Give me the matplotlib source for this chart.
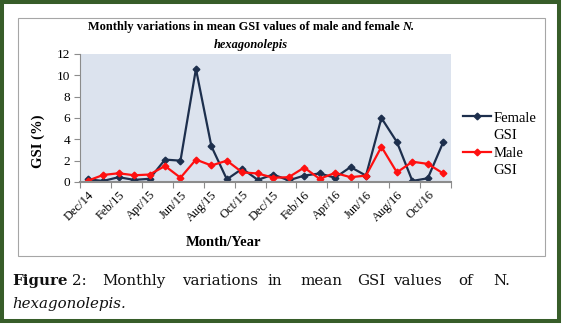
import matplotlib
matplotlib.use("Agg")
import matplotlib.pyplot as plt
from matplotlib.patches import Rectangle
from matplotlib.lines import Line2D

# -------------------- data --------------------
months = ["Dec/14", "Jan/15", "Feb/15", "Mar/15", "Apr/15", "May/15", "Jun/15",
          "Jul/15", "Aug/15", "Sep/15", "Oct/15", "Nov/15", "Dec/15", "Jan/16",
          "Feb/16", "Mar/16", "Apr/16", "May/16", "Jun/16", "Jul/16", "Aug/16",
          "Sep/16", "Oct/16", "Nov/16"]
female_gsi = [0.25, 0.1, 0.45, 0.2, 0.3, 2.1, 2.0, 10.6, 3.35, 0.25, 1.25, 0.2,
              0.7, 0.15, 0.6, 0.8, 0.4, 1.4, 0.6, 6.0, 3.75, 0.1, 0.35, 3.75]
male_gsi = [0.12, 0.66, 0.82, 0.63, 0.7, 1.5, 0.4, 2.1, 1.55, 2.0, 0.9, 0.8,
            0.4, 0.45, 1.35, 0.3, 0.85, 0.45, 0.6, 3.3, 0.9, 1.9, 1.7, 0.8]
y_ticks = [0, 2, 4, 6, 8, 10, 12]

W, H = 567, 330
SERIF = "Liberation Serif"
NAVY = "#1d2f4d"
RED = "#ff1010"
GRAY = "#8c8c8c"

def fx(x):
    return x / W

def fy(y):
    return 1 - y / H

fig = plt.figure(figsize=(W / 100, H / 100), dpi=100)
fig.patch.set_facecolor("white")

# outer green frame and grey chart box
fig.patches.append(Rectangle((fx(2), fy(321)), fx(557), 319 / H, transform=fig.transFigure,
                             fill=False, edgecolor="#375d29", linewidth=2.9))
fig.patches.append(Rectangle((fx(17.5), fy(255.5)), fx(527), 238 / H, transform=fig.transFigure,
                             fill=False, edgecolor="#a6a6a6", linewidth=0.8))

# -------------------- chart --------------------
ax = fig.add_axes([fx(80), fy(182), 371 / W, 128 / H])
ax.set_facecolor("#dce3ee")
x = list(range(len(months)))
ax.plot(x, female_gsi, color=NAVY, lw=1.6, marker="D", ms=3.4, label="Female")
ax.plot(x, male_gsi, color=RED, lw=1.6, marker="D", ms=3.4, label="Male")

ax.set_xlim(-0.5, len(months) - 0.5)
ax.set_ylim(0, 12)
ax.set_yticks(y_ticks)
ax.set_yticklabels([str(v) for v in y_ticks], family=SERIF, fontsize=9.5)

ax.set_xticks([i - 0.5 for i in range(0, len(months) + 1, 2)])
ax.set_xticklabels([])
ax.set_xticks(x[::2], minor=True)
ax.set_xticklabels(months[::2], minor=True, rotation=45, ha="right", va="top",
                   rotation_mode="anchor", family=SERIF, fontsize=9)
ax.tick_params(axis="x", which="minor", length=0, pad=5)
ax.tick_params(axis="both", which="major", length=4, color=GRAY, width=0.8)
ax.tick_params(axis="y", pad=3)

for side in ["top", "right"]:
    ax.spines[side].set_visible(False)
ax.spines["left"].set_color(GRAY)
ax.spines["left"].set_linewidth(0.8)
ax.spines["bottom"].set_color(GRAY)
ax.spines["bottom"].set_linewidth(1.5)

# axis titles
fig.text(fx(38), fy(141), "GSI (%)", rotation=90, ha="center", va="center",
         family=SERIF, fontsize=10.5, fontweight="bold")
fig.text(fx(223), fy(242), "Month/Year", ha="center", va="center",
         family=SERIF, fontsize=10.5, fontweight="bold")

# title: bold line with italic species name
fig.canvas.draw()
renderer = fig.canvas.get_renderer()
t1 = fig.text(0, fy(27), "Monthly variations in mean GSI values of male and female",
              ha="left", va="center", family=SERIF, fontsize=8.9, fontweight="bold")
t2 = fig.text(0, fy(27), "N.", ha="left", va="center", family=SERIF, fontsize=8.9,
              fontweight="bold", style="italic")
w1 = t1.get_window_extent(renderer).width
w2 = t2.get_window_extent(renderer).width
gap = 3
start = 251 - (w1 + gap + w2) / 2
t1.set_x(fx(start))
t2.set_x(fx(start + w1 + gap))
fig.text(fx(251), fy(45), "hexagonolepis", ha="center", va="center", family=SERIF,
         fontsize=8.9, fontweight="bold", style="italic")

# legend (two lines per entry)
blank = Line2D([], [], color="none")
handles = [ax.lines[0], blank, ax.lines[1], blank]
labels = ["Female", "GSI", "Male", "GSI"]
fig.legend(handles, labels, loc="upper left", bbox_to_anchor=(fx(456), fy(104)),
           bbox_transform=fig.transFigure, frameon=False, borderpad=0,
           handlelength=1.9, handletextpad=0.15, labelspacing=0.3,
           prop={"family": SERIF, "size": 10.5})

# -------------------- caption --------------------
cap_words = [("Figure", 12, "bold"), ("2:", 72, "normal"), ("Monthly", 102, "normal"),
             ("variations", 182, "normal"), ("in", 267, "normal"), ("mean", 300, "normal"),
             ("GSI", 357, "normal"), ("values", 393, "normal"), ("of", 458, "normal"),
             ("N.", 493, "normal")]
for word, xpos, weight in cap_words:
    fig.text(fx(xpos), fy(285), word, ha="left", va="baseline", family="DejaVu Serif",
             fontsize=10.8, fontweight=weight, color="#111111")
fig.text(fx(12), fy(308), "hexagonolepis.", ha="left", va="baseline",
         family="DejaVu Serif", fontsize=10.8, style="italic", color="#111111")

fig.savefig("out.png", dpi=100)
